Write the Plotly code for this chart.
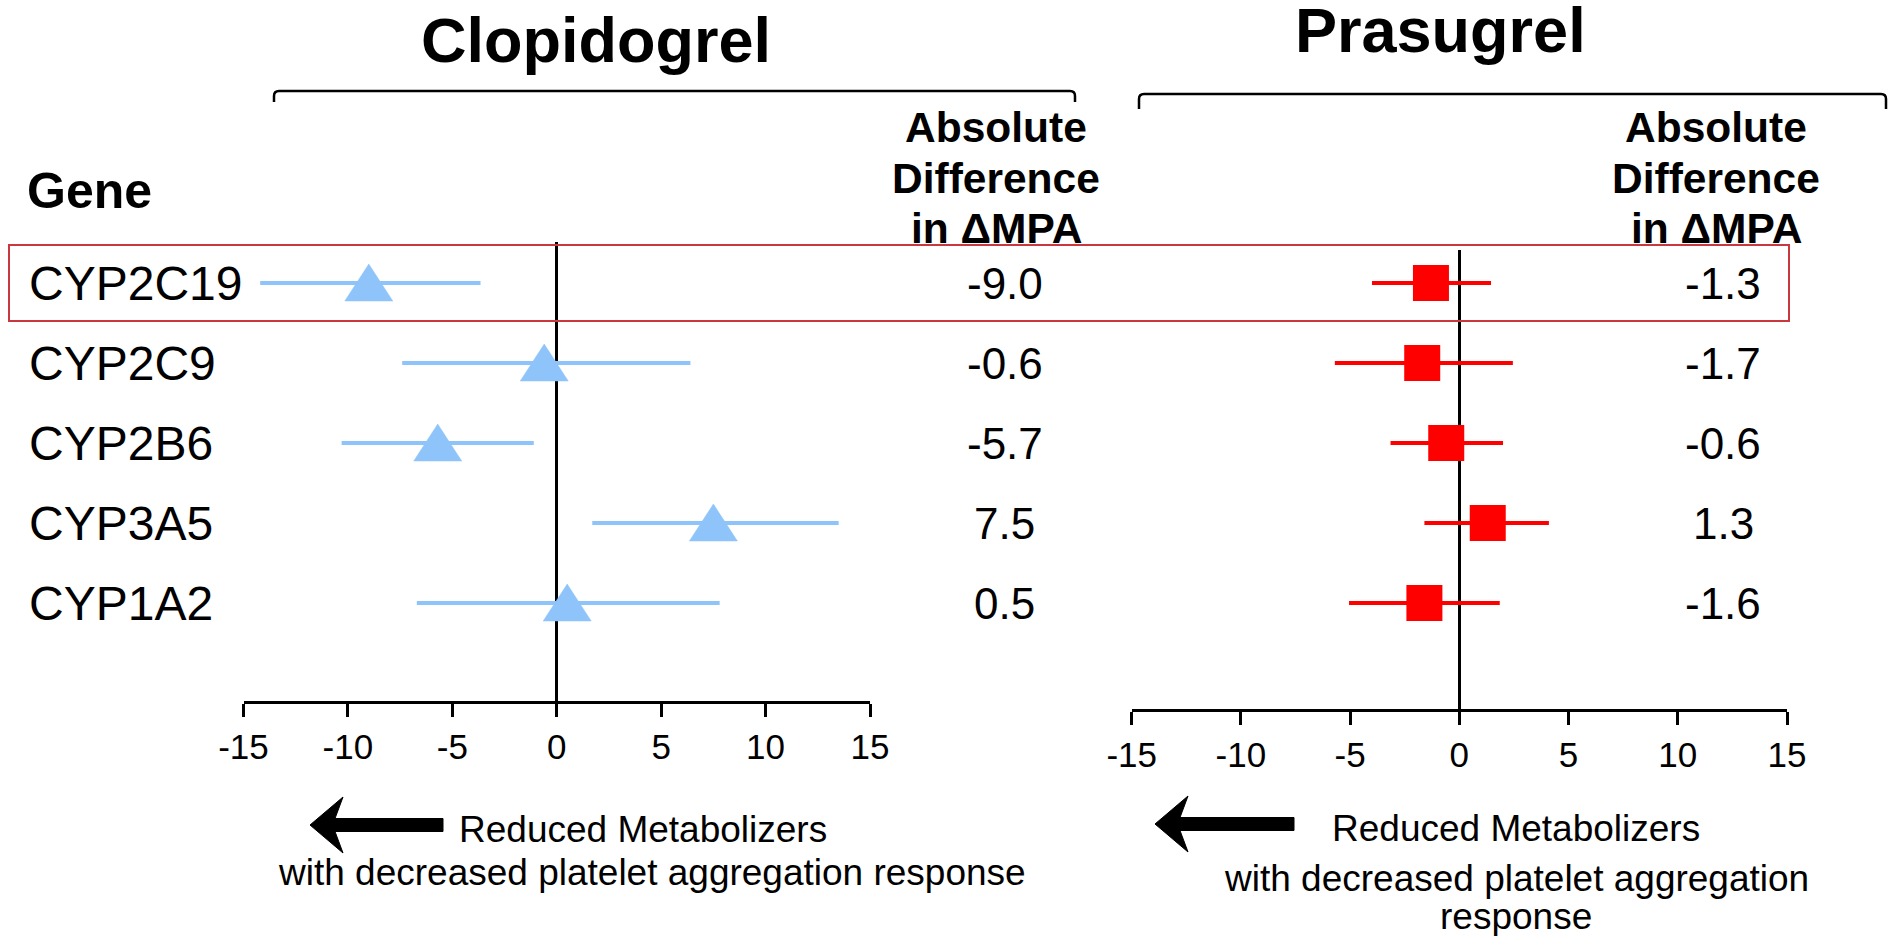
import plotly.graph_objects as go

# ---- data -------------------------------------------------------------
genes = ["CYP2C19", "CYP2C9", "CYP2B6", "CYP3A5", "CYP1A2"]

clop_diff = [-9.0, -0.6, -5.7, 7.5, 0.5]
clop_lo = [-14.2, -7.4, -10.3, 1.7, -6.7]
clop_hi = [-3.65, 6.4, -1.1, 13.5, 7.8]

pras_diff = [-1.3, -1.7, -0.6, 1.3, -1.6]
pras_lo = [-4.0, -5.7, -3.15, -1.6, -5.05]
pras_hi = [1.45, 2.45, 2.0, 4.1, 1.85]

x_ticks = [-15, -10, -5, 0, 5, 10, 15]

# ---- canvas helpers ---------------------------------------------------
W, H = 1889, 936
FONT = "Arial, Liberation Sans, sans-serif"
BLUE = "rgb(143,196,250)"
RED = "#ff0000"


def px(x):
    return x / W


def py(y):
    return 1 - y / H


rows = list(range(len(genes)))
ROW_PX = 80.0          # vertical pitch of one gene row
ROW0_PX = 283.0        # pixel centre of the first row

# panel geometry (pixels)
L_X0, L_X1 = 243.5, 870.0
R_X0, R_X1 = 1131.7, 1787.0
L_TOP, L_BOT = 242.0, 701.0
R_TOP, R_BOT = 250.0, 709.0
XMIN, XMAX = -15, 15


def yrange(top, bot):
    # reversed range so the first gene sits at the top
    return [(bot - ROW0_PX) / ROW_PX, (top - ROW0_PX) / ROW_PX]


fig = go.Figure()

# ---- Clopidogrel: CI lines + triangles ---------------------------------
xs, ys = [], []
for lo, hi, r in zip(clop_lo, clop_hi, rows):
    xs += [lo, hi, None]
    ys += [r, r, None]
fig.add_trace(go.Scatter(x=xs, y=ys, mode="lines", line=dict(color=BLUE, width=4),
                         xaxis="x", yaxis="y", hoverinfo="skip", showlegend=False))

units_per_px = (XMAX - XMIN) / (L_X1 - L_X0)
tri_hw = 24 * units_per_px          # half width of the triangle
tri_up = 19 / ROW_PX                # apex above the row centre
tri_dn = 18 / ROW_PX                # base below the row centre
tx, ty = [], []
for v, r in zip(clop_diff, rows):
    tx += [v - tri_hw, v + tri_hw, v, v - tri_hw, None]
    ty += [r + tri_dn, r + tri_dn, r - tri_up, r + tri_dn, None]
fig.add_trace(go.Scatter(x=tx, y=ty, mode="lines", fill="toself", fillcolor=BLUE,
                         line=dict(color=BLUE, width=0.5), xaxis="x", yaxis="y",
                         hoverinfo="skip", showlegend=False))

# ---- Prasugrel: CI lines + squares ------------------------------------
xs, ys = [], []
for lo, hi, r in zip(pras_lo, pras_hi, rows):
    xs += [lo, hi, None]
    ys += [r, r, None]
fig.add_trace(go.Scatter(x=xs, y=ys, mode="lines", line=dict(color=RED, width=4),
                         xaxis="x2", yaxis="y2", hoverinfo="skip", showlegend=False))
fig.add_trace(go.Scatter(x=pras_diff, y=rows, mode="markers",
                         marker=dict(symbol="square", size=36, color=RED, line=dict(width=0)),
                         xaxis="x2", yaxis="y2", showlegend=False))

# ---- axes -------------------------------------------------------------
xaxis_common = dict(
    range=[XMIN, XMAX], tickvals=x_ticks, ticktext=[str(t) for t in x_ticks],
    showgrid=False, zeroline=True, zerolinecolor="black", zerolinewidth=2.5,
    showline=True, linecolor="black", linewidth=2.5,
    ticks="outside", ticklen=13, tickwidth=2.5, tickcolor="black",
    tickfont=dict(family=FONT, size=35, color="black"), fixedrange=True,
    automargin=False,
)
yaxis_common = dict(showgrid=False, zeroline=False, showline=False,
                    showticklabels=False, ticks="", fixedrange=True,
                    automargin=False)

fig.update_layout(
    xaxis=dict(domain=[px(L_X0), px(L_X1)], anchor="y", **xaxis_common),
    yaxis=dict(domain=[py(L_BOT), py(L_TOP)], anchor="x", range=yrange(L_TOP, L_BOT), **yaxis_common),
    xaxis2=dict(domain=[px(R_X0), px(R_X1)], anchor="y2", **xaxis_common),
    yaxis2=dict(domain=[py(R_BOT), py(R_TOP)], anchor="x2", range=yrange(R_TOP, R_BOT), **yaxis_common),
)

# ---- text ---------------------------------------------------------------
ann = []


def text(x, y, s, size, xanchor="center", bold=False, yref="paper"):
    ann.append(dict(
        x=px(x), y=(py(y) if yref == "paper" else y), xref="paper", yref=yref,
        text=(f"<b>{s}</b>" if bold else s), showarrow=False,
        xanchor=xanchor, yanchor="middle",
        font=dict(family=FONT, size=size, color="black"),
    ))


text(596, 40, "Clopidogrel", 63, bold=True)
text(1440, 30, "Prasugrel", 63, bold=True)
text(25, 191, "Gene", 50, xanchor="left", bold=True)

for cx in (996, 1716):
    text(cx, 128, "Absolute", 42.5, bold=True)
    text(cx, 178, "Difference", 42.5, bold=True)
    text(cx, 228, "in ΔMPA", 42.5, bold=True)

for g, r in zip(genes, rows):
    text(27, r, g, 48, xanchor="left", yref="y")
for v, r in zip(clop_diff, rows):
    text(1005, r, f"{v:.1f}", 44, yref="y")
for v, r in zip(pras_diff, rows):
    text(1723, r, f"{v:.1f}", 44, yref="y")

text(457, 829, "Reduced Metabolizers", 37, xanchor="left")
text(652, 872, "with decreased platelet aggregation response", 37)
text(1516, 828, "Reduced Metabolizers", 37)
text(1516, 878, "with decreased platelet aggregation", 37)
text(1516, 916, "response", 37)

# ---- decorations --------------------------------------------------------
shapes = []


def bracket(x0, x1, yt, yb, r=5):
    path = (f"M {px(x0)},{py(yb)} L {px(x0)},{py(yt + r)} "
            f"Q {px(x0)},{py(yt)} {px(x0 + r)},{py(yt)} "
            f"L {px(x1 - r)},{py(yt)} Q {px(x1)},{py(yt)} {px(x1)},{py(yt + r)} "
            f"L {px(x1)},{py(yb)}")
    shapes.append(dict(type="path", path=path, xref="paper", yref="paper",
                       line=dict(color="black", width=2.5)))


def arrow(tip_x, tail_x, yc):
    pts = [(tip_x, yc), (tip_x + 33, yc - 28), (tip_x + 25, yc - 6.5),
           (tail_x, yc - 6.5), (tail_x, yc + 6.5), (tip_x + 25, yc + 6.5),
           (tip_x + 33, yc + 28)]
    path = "M " + " L ".join(f"{px(a)},{py(b)}" for a, b in pts) + " Z"
    shapes.append(dict(type="path", path=path, xref="paper", yref="paper",
                       fillcolor="black", line=dict(color="black", width=1)))


bracket(274, 1075, 91, 102)
bracket(1139, 1886, 94, 109)
arrow(310, 443, 825)
arrow(1155, 1294, 824)

# highlight box around the CYP2C19 row
shapes.append(dict(type="rect", xref="paper", yref="paper",
                   x0=px(9), x1=px(1789), y0=py(321), y1=py(245),
                   line=dict(color="#c9373f", width=2), fillcolor="rgba(0,0,0,0)",
                   layer="above"))

fig.update_layout(
    width=W, height=H, margin=dict(l=0, r=0, t=0, b=0, pad=0, autoexpand=False),
    paper_bgcolor="white", plot_bgcolor="white",
    annotations=ann, shapes=shapes, showlegend=False,
)

fig.write_html("out.html", config={"displayModeBar": False})
